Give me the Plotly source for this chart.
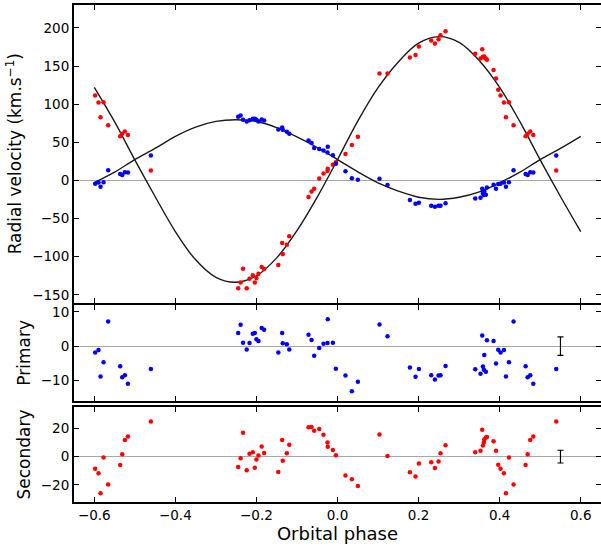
import plotly.graph_objects as go

# ---------------- data ----------------
phase = [-0.245, -0.239, -0.233, -0.224, -0.217, -0.209, -0.204, -0.200, -0.195, -0.187,
         -0.181, -0.146, -0.1365, -0.135, -0.125, -0.119, -0.0715, -0.064, -0.0575, -0.045,
         -0.0345, -0.0247, -0.0240, -0.0114, -0.004, 0.0197, 0.0355, 0.0503, 0.1036, 0.1234,
         0.1786, 0.1925, 0.2008, 0.2312, 0.2403, 0.2492, 0.2541, 0.2665, 0.3398, 0.3528,
         0.357, 0.3587, 0.361, 0.362, 0.366, 0.3686, 0.385, 0.391, 0.3965, 0.4022,
         0.4105, 0.4155, 0.4229, 0.4343, 0.464, 0.469, 0.4755, 0.483, 0.5396]

rv_primary = [83.4, 85.1, 79.5, 77.3, 79.0, 80.8, 80.8, 79.5, 77.3, 80.0,
              78.6, 66.9, 69.5, 66.5, 63.9, 61.3, 52.5, 49.0, 42.5, 41.2,
              39.1, 36.5, 44.3, 33.0, 22.0, 12.1, 3.0, 0.8, 2.1, -6.1,
              -25.7, -30.5, -29.2, -33.1, -34.4, -33.1, -33.1, -30.0, -23.5, -22.7,
              -10.9, -17.0, -19.2, -14.0, -18.8, -9.1, -5.7, -10.9, -4.8, -4.4,
              -2.6, -8.3, -2.2, 13.4, 8.6, 7.3, 10.8, 10.4, 32.6]

rv_secondary = [-141.3, -133.9, -115.6, -141.3, -128.7, -124.3, -133.9, -127.8, -122.2, -113.4,
                -116.0, -110.8, -82.1, -96.5, -84.4, -73.0, -21.8, -14.4, -10.9, 2.6,
                9.1, 12.5, 15.5, 20.5, 24.0, 34.7, 46.4, 57.4, 140.3, 140.3,
                161.2, 164.3, 175.5, 183.3, 179.4, 185.1, 190.3, 195.6, 166.0, 159.9,
                172.1, 162.0, 161.2, 162.5, 160.0, 158.1, 144.7, 133.8, 119.0, 111.2,
                102.1, 83.0, 102.5, 72.5, 57.8, 61.3, 64.3, 59.5, 13.0]

res_primary = [3.8, 6.2, 1.0, -1.0, 0.9, 3.6, 3.8, 2.0, 1.45, 5.3,
               4.8, -1.9, 3.8, 0.8, 0.5, -1.0, 3.3, 1.8, -2.8, -0.6,
               0.7, 0.9, 7.8, 1.0, -6.6, -8.6, -13.2, -10.4, 6.3, 2.9,
               -6.3, -9.0, -6.7, -8.5, -9.8, -8.6, -8.5, -5.8, -6.8, -8.1,
               3.1, -6.0, -6.9, -2.6, -7.5, 1.7, 1.5, -5.1, -1.1, -1.9,
               -1.15, -8.9, -4.7, 7.2, -5.9, -9.1, -8.5, -11.0, -6.7]

res_secondary = [-7.4, -1.2, 16.8, -9.7, 2.1, 3.0, -7.8, -2.1, 0.7, 7.1,
                 2.5, -10.8, 11.7, -3.0, 2.3, 8.3, 20.7, 20.9, 18.3, 19.5,
                 15.4, 9.9, 6.9, 4.6, 0.9, -13.4, -15.9, -20.7, 15.6, 0.4,
                 -11.0, -14.0, -4.9, -3.9, -8.1, -3.5, 2.3, 8.0, 3.0, 4.1,
                 19.0, 7.8, 10.2, 12.0, 13.5, 13.8, 10.8, 4.1, -5.8, -8.5,
                 -11.7, -25.8, -0.7, -19.6, -6.0, 1.6, 11.7, 14.2, 24.8]

# orbit model curves at 0.05 steps
curve_phase = [-0.60, -0.55, -0.50, -0.45, -0.40, -0.35, -0.30, -0.25, -0.20, -0.15,
               -0.10, -0.05, 0.00, 0.05, 0.10, 0.15, 0.20, 0.25, 0.30, 0.35,
               0.40, 0.45, 0.50, 0.55, 0.60]
curve_primary = [-3.0, 10.8, 27.4, 42.0, 57.8, 70.0, 77.5, 79.6, 77.3, 69.3,
                 57.1, 43.2, 27.4, 11.2, -3.3, -14.0, -22.0, -24.8, -22.0, -15.0,
                 -3.0, 10.8, 27.4, 42.0, 57.8]
curve_secondary = [122.0, 77.0, 27.0, -21.0, -67.0, -104.0, -127.0, -133.5, -125.0, -101.5,
                   -65.8, -21.8, 27.3, 77.8, 121.6, 155.4, 180.0, 188.5, 181.0, 157.0,
                   122.0, 77.0, 27.0, -21.0, -67.0]

errbar_phase = 0.55
errbar_primary = 2.7
errbar_secondary = 4.5

x_ticks = [-0.6, -0.4, -0.2, 0.0, 0.2, 0.4, 0.6]
x_ticktext = ["\u22120.6", "\u22120.4", "\u22120.2", "0.0", "0.2", "0.4", "0.6"]
y1_ticks = [-150, -100, -50, 0, 50, 100, 150, 200]
y1_ticktext = ["\u2212150", "\u2212100", "\u221250", "0", "50", "100", "150", "200"]
y2_ticks = [-10, 0, 10]
y2_ticktext = ["\u221210", "0", "10"]
y3_ticks = [-20, 0, 20]
y3_ticktext = ["\u221220", "0", "20"]

# phases above 0.4 are also shown one cycle earlier
wrap = [i for i, p in enumerate(phase) if p >= 0.4]
ph_all = phase + [phase[i] - 1 for i in wrap]
rv1_all = rv_primary + [rv_primary[i] for i in wrap]
rv2_all = rv_secondary + [rv_secondary[i] for i in wrap]
r1_all = res_primary + [res_primary[i] for i in wrap]
r2_all = res_secondary + [res_secondary[i] for i in wrap]

RED = "#ff0000"
BLUE = "#0000ff"
LINE = "#1a1a1a"
msize = 4.5

fig = go.Figure()
# top panel
fig.add_trace(go.Scatter(x=curve_phase, y=curve_primary, mode="lines",
                         line=dict(color=LINE, width=1.4, shape="spline"), xaxis="x", yaxis="y"))
fig.add_trace(go.Scatter(x=curve_phase, y=curve_secondary, mode="lines",
                         line=dict(color=LINE, width=1.4, shape="spline"), xaxis="x", yaxis="y"))
fig.add_trace(go.Scatter(x=ph_all, y=rv2_all, mode="markers",
                         marker=dict(color=RED, size=msize), xaxis="x", yaxis="y"))
fig.add_trace(go.Scatter(x=ph_all, y=rv1_all, mode="markers",
                         marker=dict(color=BLUE, size=msize), xaxis="x", yaxis="y"))
# middle panel
fig.add_trace(go.Scatter(x=ph_all, y=r1_all, mode="markers",
                         marker=dict(color=BLUE, size=msize), xaxis="x2", yaxis="y2"))
fig.add_trace(go.Scatter(x=[errbar_phase], y=[0], mode="markers",
                         marker=dict(color="black", size=4, opacity=0),
                         error_y=dict(type="data", array=[errbar_primary], color="black",
                                      thickness=1.2, width=3),
                         xaxis="x2", yaxis="y2"))
# bottom panel
fig.add_trace(go.Scatter(x=ph_all, y=r2_all, mode="markers",
                         marker=dict(color=RED, size=msize), xaxis="x3", yaxis="y3"))
fig.add_trace(go.Scatter(x=[errbar_phase], y=[0], mode="markers",
                         marker=dict(color="black", size=4, opacity=0),
                         error_y=dict(type="data", array=[errbar_secondary], color="black",
                                      thickness=1.2, width=3),
                         xaxis="x3", yaxis="y3"))

axis_common = dict(showline=True, linecolor="black", linewidth=2, mirror="allticks",
                   ticks="inside", ticklen=5, tickwidth=1, tickcolor="black",
                   showgrid=False, automargin=False,
                   tickfont=dict(size=13.5, color="black"))
xcommon = dict(axis_common, range=[-0.65, 0.65], tickvals=x_ticks, ticktext=x_ticktext,
               zeroline=False)
ycommon = dict(axis_common, zeroline=True, zerolinecolor="#a8a8a8", zerolinewidth=1)

H_TOP = [0.4014, 1.0]
H_MID = [0.2036, 0.3964]
H_BOT = [0.0, 0.1912]

fig.update_layout(
    width=601, height=546,
    margin=dict(l=74, r=0, t=5, b=44),
    plot_bgcolor="white", paper_bgcolor="white",
    showlegend=False,
    font=dict(family="DejaVu Sans", color="black"),
    xaxis=dict(xcommon, anchor="y", showticklabels=False),
    xaxis2=dict(xcommon, anchor="y2", matches="x", showticklabels=False),
    xaxis3=dict(xcommon, anchor="y3", matches="x",
                title=dict(text="Orbital phase", font=dict(size=18), standoff=2)),
    yaxis=dict(ycommon, domain=H_TOP, range=[-160, 230], tickvals=y1_ticks,
               ticktext=y1_ticktext,
               title=dict(text="Radial velocity (km.s<sup>\u22121</sup>)", font=dict(size=17),
                          standoff=6)),
    yaxis2=dict(ycommon, domain=H_MID, range=[-16, 12], tickvals=y2_ticks,
                ticktext=y2_ticktext,
                title=dict(text="Primary", font=dict(size=17), standoff=6)),
    yaxis3=dict(ycommon, domain=H_BOT, range=[-32, 35], tickvals=y3_ticks,
                ticktext=y3_ticktext,
                title=dict(text="Secondary", font=dict(size=17), standoff=6)),
)

fig.write_html("out.html",
               config={"displayModeBar": False},
               post_script="document.body.style.margin='0';document.body.style.overflow='hidden';")
